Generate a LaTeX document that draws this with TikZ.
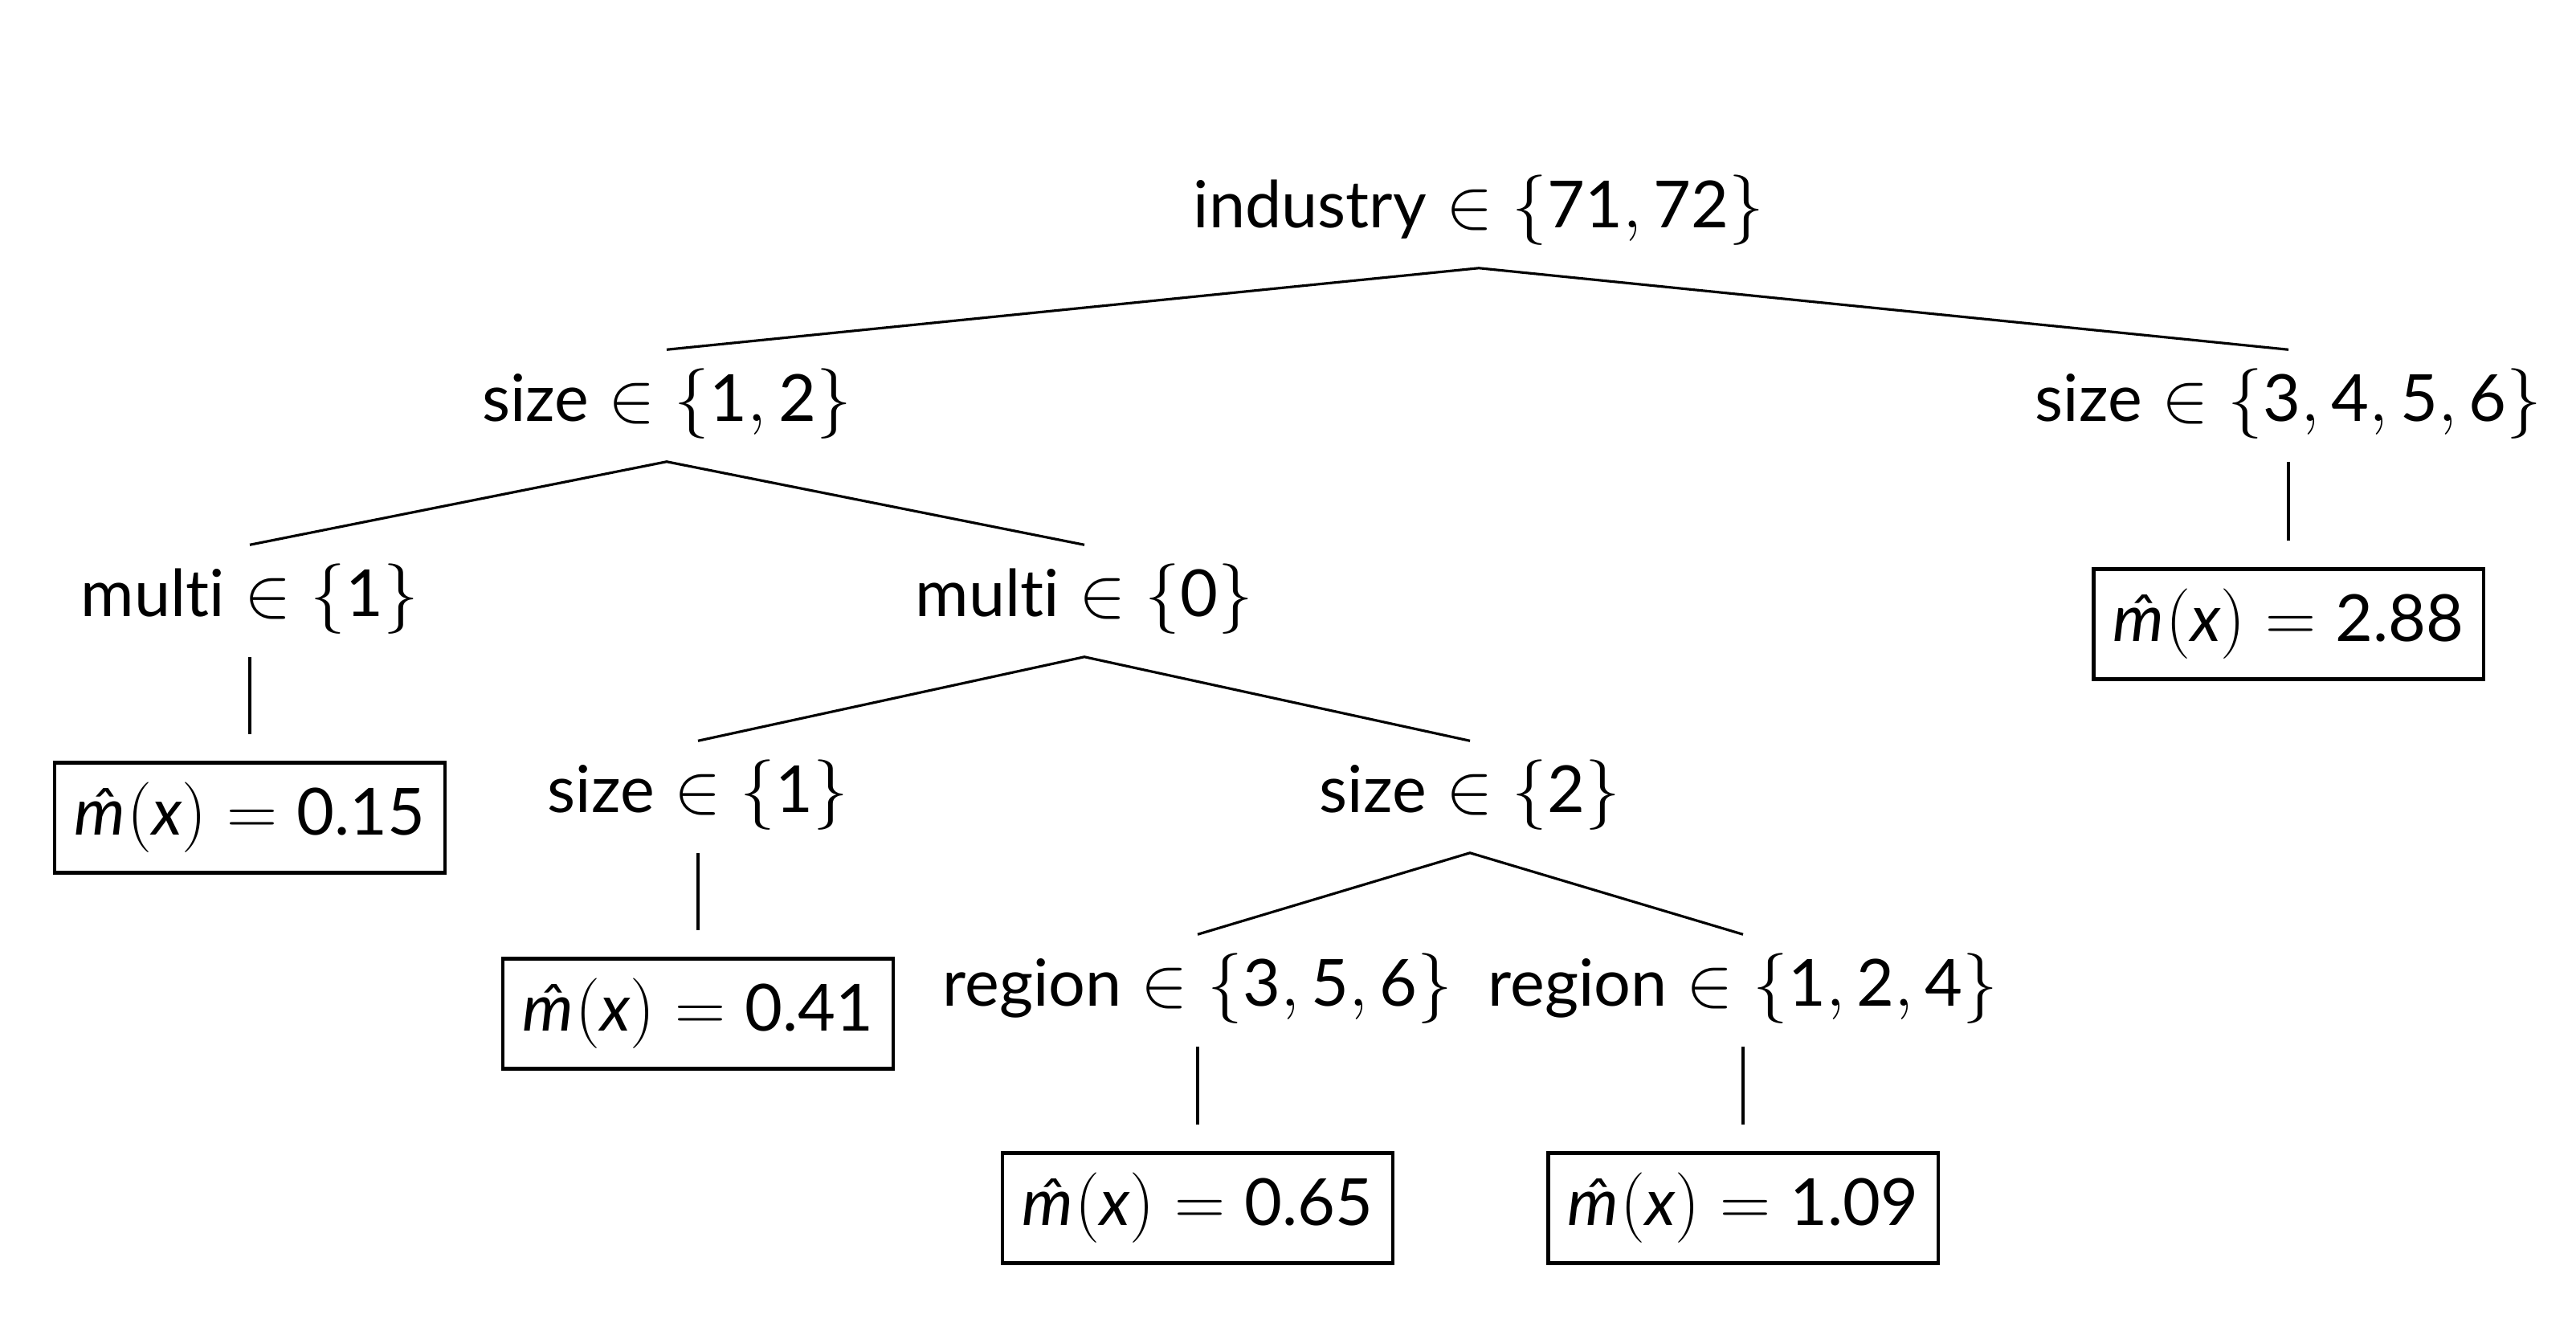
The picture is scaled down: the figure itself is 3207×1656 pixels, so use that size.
\documentclass[tikz,border=0pt]{standalone}
\usepackage{amsmath}
\usepackage{fontspec}
\setmainfont[Ligatures=NoCommon]{Lato}
\newcommand\mhat[1]{\textit{\^m}$(\text{\itshape x})=\text{#1}$}
\tikzset{
  split/.style={inner sep=0pt, text height=0.88cm, text depth=0.50cm, anchor=base,
    font=\fontsize{23}{28}\selectfont},
  leaf/.style={draw, line width=1.2pt, minimum width=4.85cm, minimum height=1.37cm,
    inner sep=0pt, font=\fontsize{23}{28}\selectfont},
  edge/.style={line width=0.9pt},
  leafedge/.style={line width=0.9pt, shorten >=0.33cm},
}
\begin{document}
\begin{tikzpicture}[x=0.01cm,y=-0.01cm]
\useasboundingbox (0,0) rectangle (3207,1656);
% split nodes (placed at baseline)
\node[split] (root) at (1841,283) {$\text{industry}\in\{\text{71},\text{72}\}$};
\node[split] (s12) at (830,524) {$\text{size}\in\{\text{1},\text{2}\}$};
\node[split] (s3456) at (2849,524) {$\text{size}\in\{\text{3},\text{4},\text{5},\text{6}\}$};
\node[split] (m1) at (311,767) {$\text{multi}\in\{\text{1}\}$};
\node[split] (m0) at (1350,767) {$\text{multi}\in\{\text{0}\}$};
\node[split] (s1) at (869,1011) {$\text{size}\in\{\text{1}\}$};
\node[split] (s2) at (1830,1011) {$\text{size}\in\{\text{2}\}$};
\node[split] (r356) at (1491,1252) {$\text{region}\in\{\text{3},\text{5},\text{6}\}$};
\node[split] (r124) at (2170,1252) {$\text{region}\in\{\text{1},\text{2},\text{4}\}$};
% leaves
\node[leaf] (l288) at (2849,777) {\mhat{2.88}};
\node[leaf] (l015) at (311,1018) {\mhat{0.15}};
\node[leaf] (l041) at (869,1262) {\mhat{0.41}};
\node[leaf] (l065) at (1491,1504) {\mhat{0.65}};
\node[leaf] (l109) at (2170,1504) {\mhat{1.09}};
% edges
\draw[edge] (s12.north) -- (root.south) -- (s3456.north);
\draw[edge] (m1.north) -- (s12.south) -- (m0.north);
\draw[edge] (s1.north) -- (m0.south) -- (s2.north);
\draw[edge] (r356.north) -- (s2.south) -- (r124.north);
\draw[leafedge] (s3456.south) -- (l288.north);
\draw[leafedge] (m1.south) -- (l015.north);
\draw[leafedge] (s1.south) -- (l041.north);
\draw[leafedge] (r356.south) -- (l065.north);
\draw[leafedge] (r124.south) -- (l109.north);
\end{tikzpicture}
\end{document}
